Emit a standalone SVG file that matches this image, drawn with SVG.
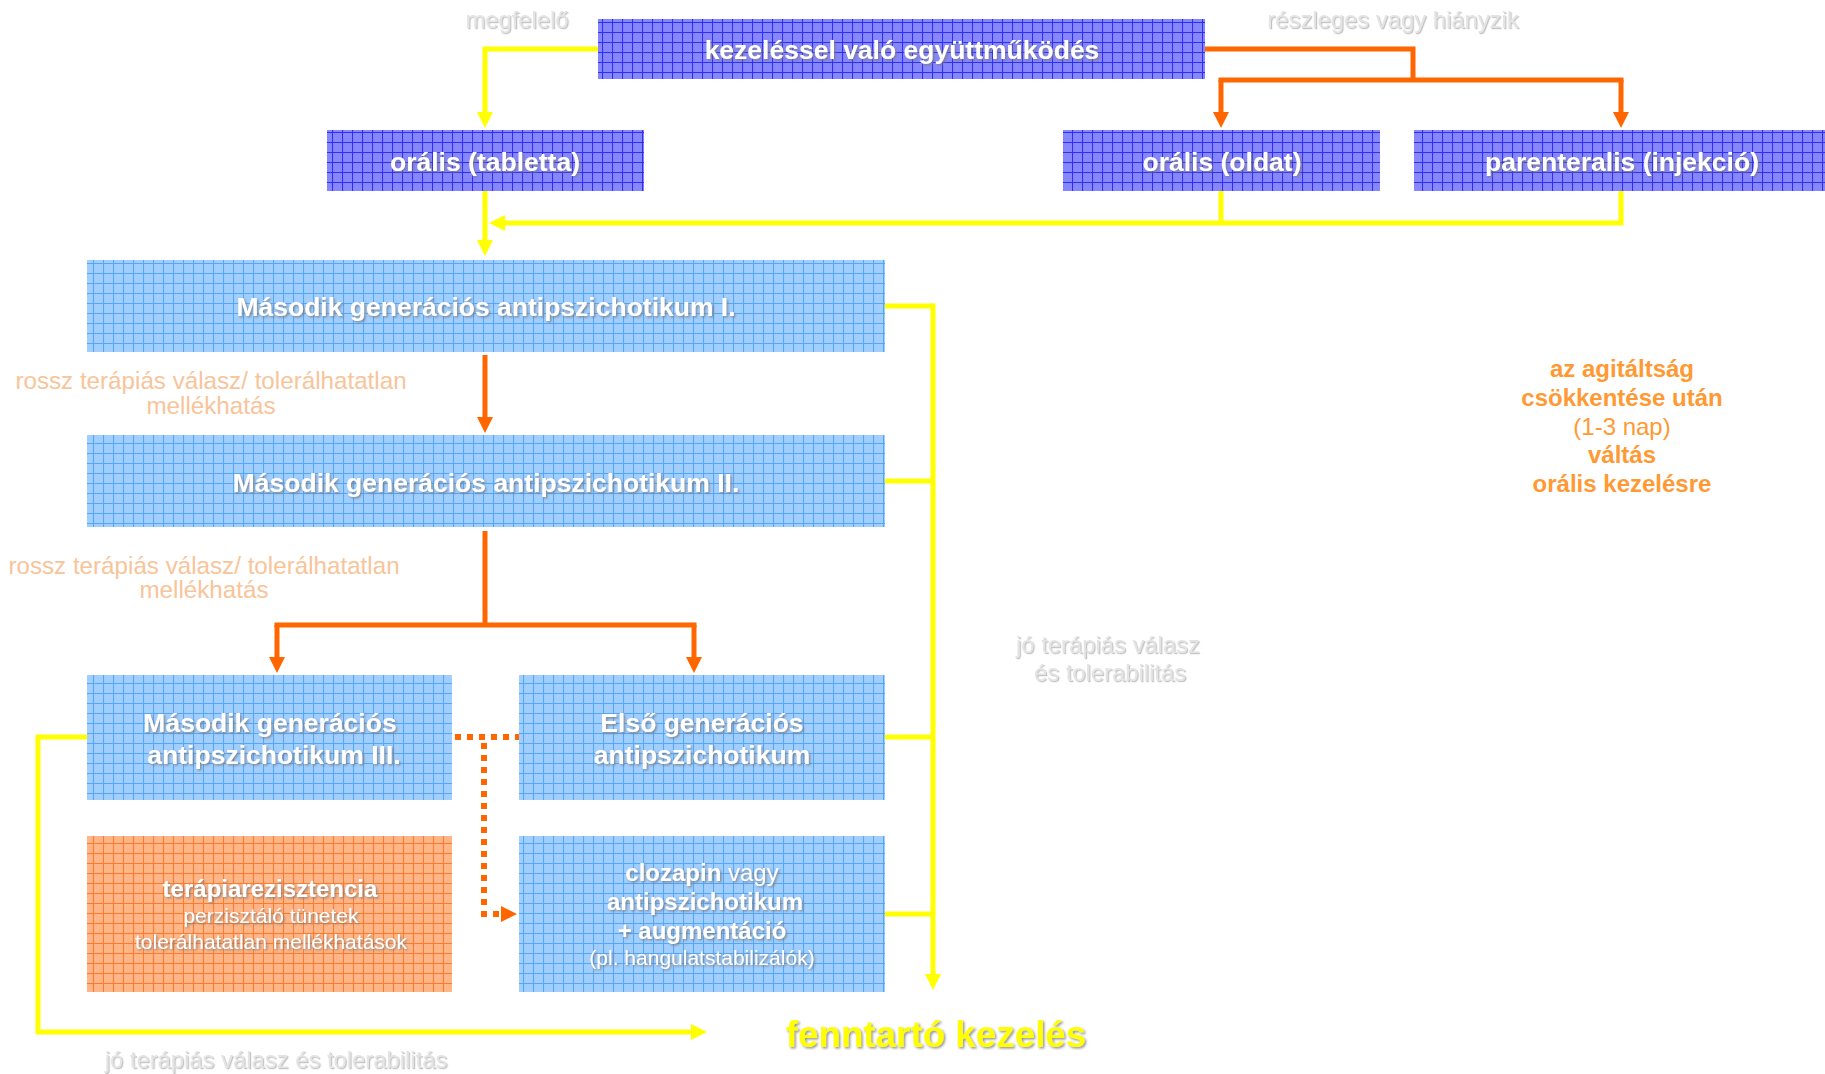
<svg xmlns="http://www.w3.org/2000/svg" width="1825" height="1074" viewBox="0 0 1825 1074">
<defs>
<pattern id="gridDark" patternUnits="userSpaceOnUse" width="10" height="10" x="2" y="2">
<rect width="10" height="10" fill="#8686ff"/>
<path d="M0,0.5 H10 M0.5,0 V10" stroke="#2e2ef5" stroke-width="1.1" fill="none"/>
</pattern>
<pattern id="gridLight" patternUnits="userSpaceOnUse" width="10" height="10" x="3" y="3">
<rect width="10" height="10" fill="#a0ceff"/>
<path d="M0,0.5 H10 M0.5,0 V10" stroke="#55a6f7" stroke-width="1.1" fill="none"/>
</pattern>
<pattern id="gridOrange" patternUnits="userSpaceOnUse" width="10" height="10" x="3" y="3">
<rect width="10" height="10" fill="#ffb586"/>
<path d="M0,0.5 H10 M0.5,0 V10" stroke="#ff7a2e" stroke-width="1.1" fill="none"/>
</pattern>
<filter id="shadow" x="-5%" y="-20%" width="110%" height="150%">
<feDropShadow dx="1.5" dy="1.5" stdDeviation="0.8" flood-color="#7a7a7a" flood-opacity="0.8"/>
</filter>
<filter id="shadowLight" x="-5%" y="-20%" width="110%" height="150%">
<feDropShadow dx="1.2" dy="1.2" stdDeviation="0.6" flood-color="#9a9a9a" flood-opacity="0.6"/>
</filter>
<marker id="arrowY" markerUnits="userSpaceOnUse" markerWidth="18" markerHeight="16" refX="0" refY="8" orient="auto">
<path d="M0,0 L16,8 L0,16 z" fill="#ffff00"/>
</marker>
<marker id="arrowO" markerUnits="userSpaceOnUse" markerWidth="18" markerHeight="16" refX="0" refY="8" orient="auto">
<path d="M0,0 L16,8 L0,16 z" fill="#ff6600"/>
</marker>
</defs>
<style>
.dark{fill:url(#gridDark)}
.light{fill:url(#gridLight)}
.orange{fill:url(#gridOrange)}
text{font-family:"Liberation Sans",Arial,sans-serif;text-anchor:middle}
.bt{fill:#ffffff;font-weight:bold;font-size:26.5px;filter:url(#shadow)}
.bt2{fill:#ffffff;font-weight:bold;font-size:24px;filter:url(#shadow)}
.rt{fill:#ffffff;font-size:21px;filter:url(#shadow)}
.gray{fill:#e4e4e4;font-size:23.8px;filter:url(#shadowLight)}
.peach{fill:#f8c49a;font-size:24.2px}
.org{fill:#ff9933;font-size:24px;font-weight:bold}
.orgr{fill:#ff9933;font-size:24px}
.final{fill:#ffff00;font-weight:bold;font-size:36.8px;filter:url(#shadow)}
.y{stroke:#ffff00;stroke-width:5;fill:none}
.o{stroke:#ff6600;stroke-width:5;fill:none}
.od{stroke:#ff6600;stroke-width:6;fill:none;stroke-dasharray:6 6}
</style>
<rect width="1825" height="1074" fill="#ffffff"/>

<g id="connectors">
<path class="y" d="M598,49 H485 V112" marker-end="url(#arrowY)"/>
<path class="y" d="M485,191 V240" marker-end="url(#arrowY)"/>
<path class="y" d="M1221,191 V223"/>
<path class="y" d="M1621,191 V223 H505" marker-end="url(#arrowY)"/>
<path class="y" d="M885,306 H933 M885,481 H933 M885,737 H933 M885,914 H933"/>
<path class="y" d="M933,303.5 V974" marker-end="url(#arrowY)"/>
<path class="y" d="M87,737 H38 V1032 H691" marker-end="url(#arrowY)"/>
<path class="o" d="M1205,49 H1413 V80"/>
<path class="o" d="M1218.5,80 H1623.5"/>
<path class="o" d="M1221,80 V112" marker-end="url(#arrowO)"/>
<path class="o" d="M1621,80 V112" marker-end="url(#arrowO)"/>
<path class="o" d="M485,355 V417" marker-end="url(#arrowO)"/>
<path class="o" d="M485,531 V625"/>
<path class="o" d="M274.5,625 H696.5"/>
<path class="o" d="M277,625 V657" marker-end="url(#arrowO)"/>
<path class="o" d="M694,625 V657" marker-end="url(#arrowO)"/>
<path class="od" d="M455,737 H519"/>
<path class="od" d="M484,743 V914 H501" marker-end="url(#arrowO)"/>
</g>

<g id="node-kezeles">
<rect class="dark" x="598" y="19" width="607" height="60"/>
<text class="bt" x="902" y="59">kezeléssel való együttműködés</text>
</g>
<g id="node-tabletta">
<rect class="dark" x="327" y="130" width="317" height="61"/>
<text class="bt" x="485" y="171">orális (tabletta)</text>
</g>
<g id="node-oldat">
<rect class="dark" x="1063" y="130" width="317" height="61"/>
<text class="bt" x="1222" y="171">orális (oldat)</text>
</g>
<g id="node-parenteralis">
<rect class="dark" x="1414" y="130" width="411" height="61"/>
<text class="bt" x="1622" y="171">parenteralis (injekció)</text>
</g>
<g id="node-mg1">
<rect class="light" x="87" y="260" width="798" height="92"/>
<text class="bt" x="486" y="316">Második generációs antipszichotikum I.</text>
</g>
<g id="node-mg2">
<rect class="light" x="87" y="435" width="798" height="92"/>
<text class="bt" x="486" y="492">Második generációs antipszichotikum II.</text>
</g>
<g id="node-mg3">
<rect class="light" x="87" y="675" width="365" height="125"/>
<text class="bt" x="270" y="732">Második generációs</text>
<text class="bt" x="274" y="764">antipszichotikum III.</text>
</g>
<g id="node-elso">
<rect class="light" x="519" y="675" width="366" height="125"/>
<text class="bt" x="702" y="732">Első generációs</text>
<text class="bt" x="702" y="764">antipszichotikum</text>
</g>
<g id="node-rezisztencia">
<rect class="orange" x="87" y="836" width="365" height="156"/>
<text class="bt2" x="270" y="897">terápiarezisztencia</text>
<text class="rt" x="271" y="923">perzisztáló tünetek</text>
<text class="rt" x="271" y="949">tolerálhatatlan mellékhatások</text>
</g>
<g id="node-clozapin">
<rect class="light" x="519" y="836" width="366" height="156"/>
<text class="bt2" x="702" y="881">clozapin <tspan font-weight="normal">vagy</tspan></text>
<text class="bt2" x="705" y="910">antipszichotikum</text>
<text class="bt2" x="702" y="939">+ augmentáció</text>
<text class="rt" x="702" y="965">(pl. hangulatstabilizálók)</text>
</g>
<g id="node-fenntarto">
<text class="final" x="936" y="1047">fenntartó kezelés</text>
</g>

<g id="labels">
<text class="gray" x="517" y="28">megfelelő</text>
<text class="gray" x="1393" y="28">részleges vagy hiányzik</text>
<text class="peach" x="211" y="389">rossz terápiás válasz/ tolerálhatatlan</text>
<text class="peach" x="211" y="414">mellékhatás</text>
<text class="peach" x="204" y="574">rossz terápiás válasz/ tolerálhatatlan</text>
<text class="peach" x="204" y="598">mellékhatás</text>
<text class="gray" x="1108" y="653">jó terápiás válasz</text>
<text class="gray" x="1110" y="681">és tolerabilitás</text>
<text class="gray" x="276" y="1068">jó terápiás válasz és tolerabilitás</text>
<text class="org" x="1622" y="377">az agitáltság</text>
<text class="org" x="1622" y="406">csökkentése után</text>
<text class="orgr" x="1622" y="435">(1-3 nap)</text>
<text class="org" x="1622" y="463">váltás</text>
<text class="org" x="1622" y="492">orális kezelésre</text>
</g>
</svg>
